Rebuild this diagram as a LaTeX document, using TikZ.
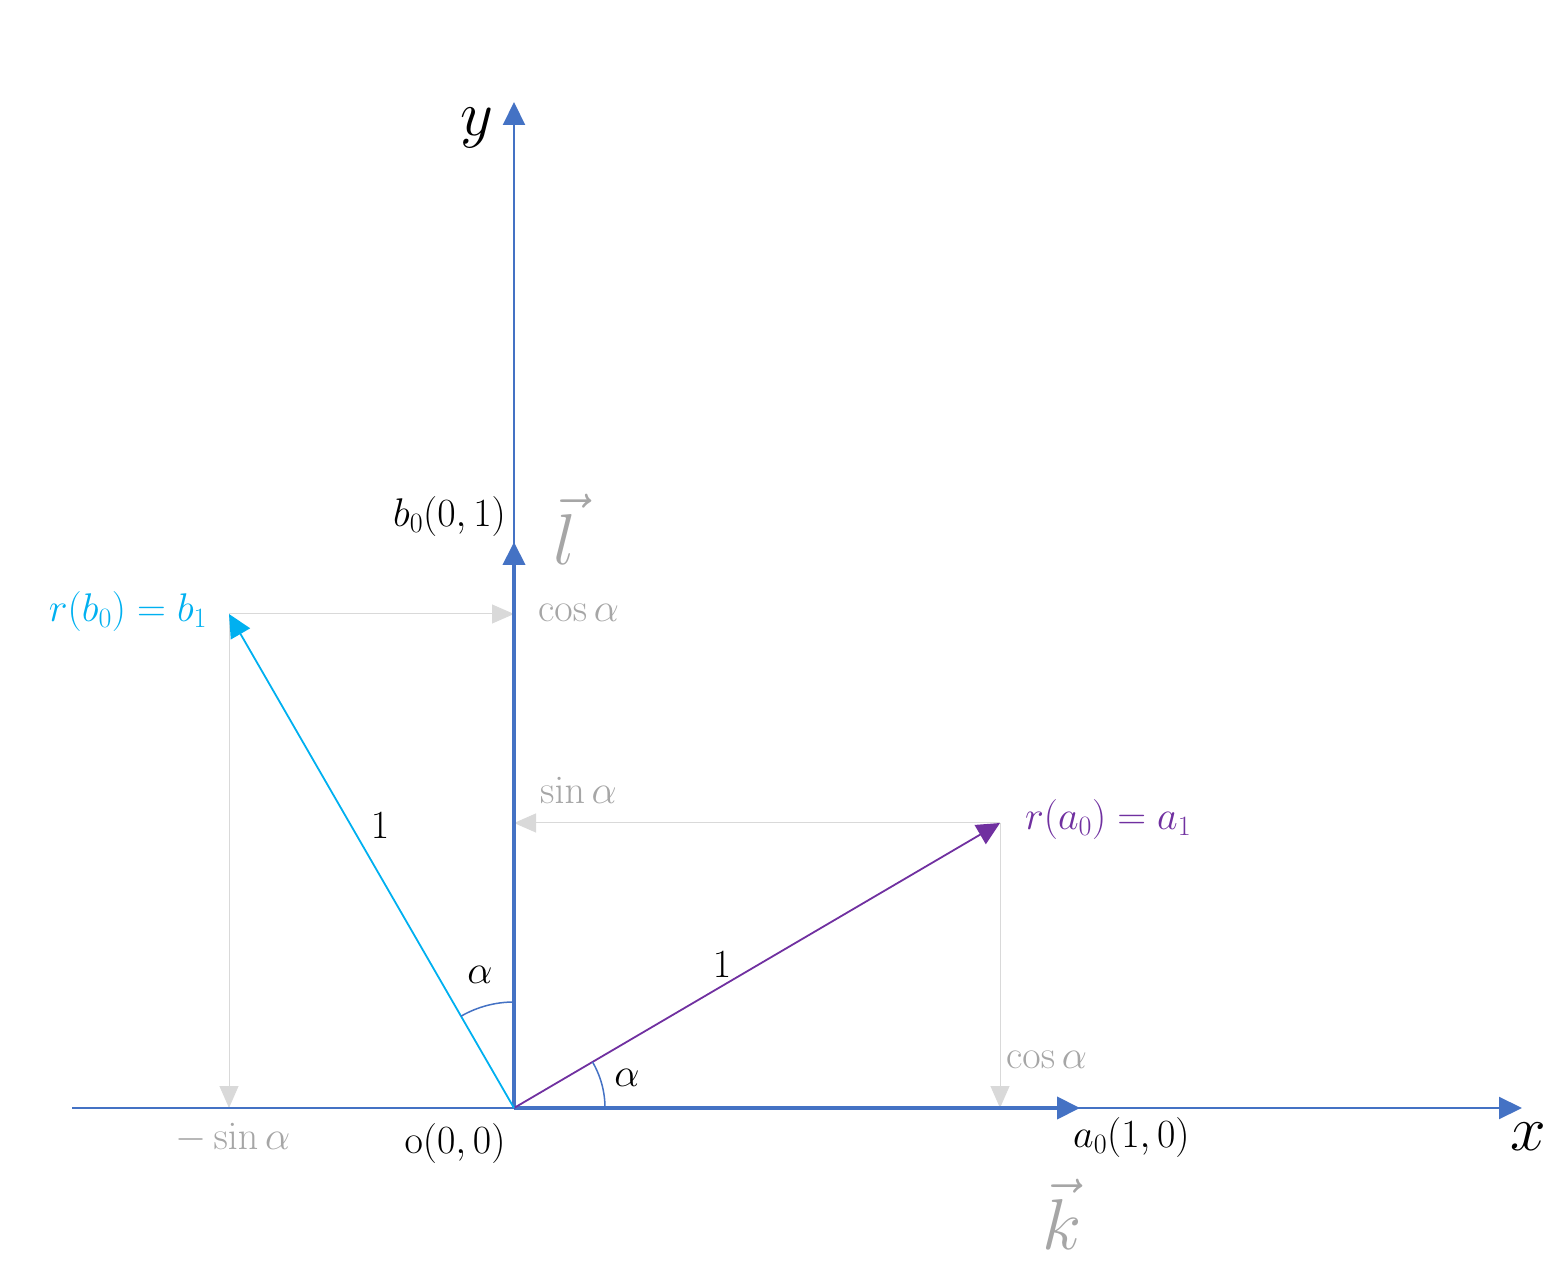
\RequirePackage{fix-cm}
\documentclass[tikz,border=0pt]{standalone}
\usetikzlibrary{arrows.meta}
\definecolor{axblue}{HTML}{4472C4}
\definecolor{cyanv}{HTML}{00B0F0}
\definecolor{purplev}{HTML}{7030A0}
\definecolor{graytxt}{HTML}{A6A6A6}
\definecolor{grayln}{HTML}{D9D9D9}
\tikzset{
  lbl/.style={inner sep=0pt, font=\fontsize{40}{46}\selectfont},
  biglbl/.style={inner sep=0pt, font=\fontsize{64}{72}\selectfont},
  vecl/.style={inner sep=0pt, font=\fontsize{72}{80}\selectfont, text=graytxt},
  axisline/.style={draw=axblue, line width=2pt, -{Triangle[length=23pt,width=22pt]}},
  unitvec/.style={draw=axblue, line width=4pt, -{Triangle[length=23pt,width=22pt]}},
  projline/.style={draw=grayln, line width=1pt, -{Triangle[length=22pt,width=19pt]}},
  rotvec/.style={line width=1.8pt},
  anglearc/.style={draw=axblue, line width=1.5pt},
}
\begin{document}
\begin{tikzpicture}[x=1pt,y=1pt]
\useasboundingbox (0,0) rectangle (1562,1269);
% coordinates
\coordinate (O) at (514,161);
\coordinate (xstart) at (72,161);
\coordinate (xend) at (1522,161);
\coordinate (yend) at (514,1167);
\coordinate (a0) at (1080,161);
\coordinate (b0) at (514,727);
\coordinate (a1) at (1000,446);
\coordinate (b1) at (229,655);
\coordinate (pa1x) at (1000,161);
\coordinate (pa1y) at (514,446);
\coordinate (pb1x) at (229,161);
\coordinate (pb1y) at (514,655);
% projections
\draw[projline] (b1) -- (pb1y);
\draw[projline] (b1) -- (pb1x);
\draw[projline] (a1) -- (pa1y);
\draw[projline] (a1) -- (pa1x);
% axes
\draw[axisline] (xstart) -- (xend);
\draw[axisline] (O) -- (yend);
% unit vectors
\draw[unitvec] (O) -- (a0);
\draw[unitvec] (O) -- (b0);
% rotated vectors
\draw[rotvec, draw=purplev, -{Triangle[length=23pt,width=22pt,fill=purplev]}] (O) -- (a1);
\draw[rotvec, draw=cyanv, -{Triangle[length=23pt,width=22pt,fill=cyanv]}] (O) -- (b1);
% angle arcs
\draw[anglearc] (O) ++(91,0) arc[start angle=0, end angle=30.4, radius=91];
\draw[anglearc] (O) ++(0,106) arc[start angle=90, end angle=120, radius=106];
% labels
\node[biglbl] (ylab) at (477,1141) {$y$};
\node[biglbl] (xlab) at (1528,132) {$x$};
\node[lbl, anchor=east] (b0lab) at (506,752) {$b_0(0,1)$};
\node[vecl] (llab) at (565,740) {$\vec{l}$};
\node[lbl, anchor=west, text=graytxt] (cosb) at (538,656) {$\cos\alpha$};
\node[lbl, text=cyanv] (b1lab) at (128,657) {$r(b_0)=b_1$};
\node[lbl] (oneb) at (380,443) {$1$};
\node[lbl, anchor=west, text=graytxt] (sina) at (540,479) {$\sin\alpha$};
\node[lbl, anchor=west, text=purplev] (a1lab) at (1025,449) {$r(a_0)=a_1$};
\node[lbl] (alphab) at (480,294) {$\alpha$};
\node[lbl] (onea) at (722,304) {$1$};
\node[lbl] (alphaa) at (627,191) {$\alpha$};
\node[lbl, anchor=west, text=graytxt] (cosa) at (1006,209) {$\cos\alpha$};
\node[lbl, text=graytxt] (msinb) at (233,131) {$-\sin\alpha$};
\node[lbl] (olab) at (455,126) {$\mathrm{o}(0,0)$};
\node[lbl, anchor=west] (a0lab) at (1073,132) {$a_0(1,0)$};
\node[vecl] (klab) at (1062,55) {$\vec{k}$};
\end{tikzpicture}
\end{document}
